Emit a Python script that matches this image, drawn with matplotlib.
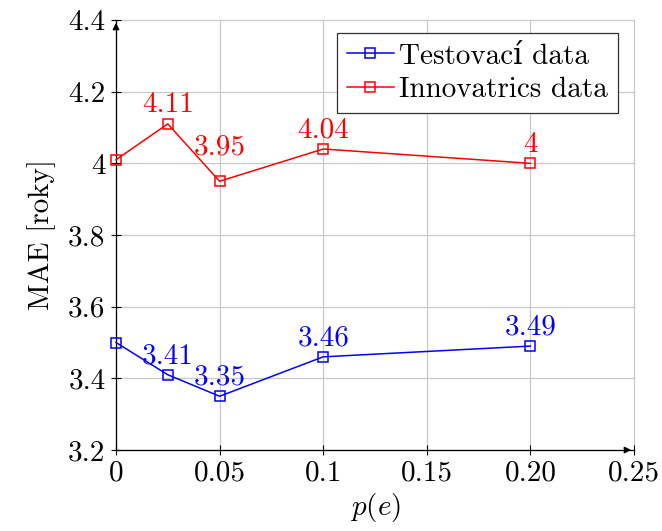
import numpy as np
import matplotlib
matplotlib.use("Agg")
import matplotlib.pyplot as plt

plt.rcParams['font.family'] = ['cmr10', 'DejaVu Serif']
plt.rcParams['mathtext.fontset'] = 'cm'
plt.rcParams['axes.unicode_minus'] = False

p_e = [0, 0.025, 0.05, 0.1, 0.2]
mae_test = [3.50, 3.41, 3.35, 3.46, 3.49]
mae_innov = [4.01, 4.11, 3.95, 4.04, 4.00]
labels_test = ["", "3.41", "3.35", "3.46", "3.49"]
labels_innov = ["", "4.11", "3.95", "4.04", "4"]

xticks = [0, 0.05, 0.1, 0.15, 0.2, 0.25]
xticklabels = ["0", "0.05", "0.1", "0.15", "0.20", "0.25"]
yticks = [3.2, 3.4, 3.6, 3.8, 4.0, 4.2, 4.4]
yticklabels = ["3.2", "3.4", "3.6", "3.8", "4", "4.2", "4.4"]

fs = 21

fig = plt.figure(figsize=(6.62, 5.31), dpi=100)
ax = fig.add_axes([116/662, 81/531, 518/662, 430/531])

ax.plot(p_e, mae_test, color='blue', lw=1.1, marker='s', ms=7.5, mfc='none',
        mec='blue', mew=1.1, label='Testovací data', clip_on=False, zorder=3)
ax.plot(p_e, mae_innov, color='red', lw=1.1, marker='s', ms=7.5, mfc='none',
        mec='red', mew=1.1, label='Innovatrics data', clip_on=False, zorder=3)

for x, y, s in zip(p_e, mae_test, labels_test):
    if s:
        ax.annotate(s, (x, y), xytext=(0, 4), textcoords='offset points',
                    ha='center', va='bottom', color='blue', fontsize=fs)
for x, y, s in zip(p_e, mae_innov, labels_innov):
    if s:
        # the 3.95 label sits higher in the original
        dy = 15 if s == "3.95" else 4
        ax.annotate(s, (x, y), xytext=(0, dy), textcoords='offset points',
                    ha='center', va='bottom', color='red', fontsize=fs)

ax.set_xlim(0, 0.25)
ax.set_ylim(3.2, 4.4)
ax.set_xticks(xticks)
ax.set_xticklabels(xticklabels, fontsize=fs)
ax.set_yticks(yticks)
ax.set_yticklabels(yticklabels, fontsize=fs)
ax.tick_params(direction='inout', length=7, width=0.8, pad=4)

ax.grid(True, color='#c8c8c8', lw=0.9)
for gl in ax.get_xgridlines() + ax.get_ygridlines():
    gl.set_clip_on(False)

for s in ['top', 'right']:
    ax.spines[s].set_visible(False)
ax.spines['left'].set_linewidth(0.9)
ax.spines['bottom'].set_linewidth(0.9)
ax.annotate('', xy=(1, 0), xytext=(0.98, 0), xycoords='axes fraction',
            arrowprops=dict(arrowstyle='-|>', color='black', lw=0.9, mutation_scale=10))
ax.annotate('', xy=(0, 1), xytext=(0, 0.98), xycoords='axes fraction',
            arrowprops=dict(arrowstyle='-|>', color='black', lw=0.9, mutation_scale=10))

ax.set_xlabel('$p(e)$', fontsize=fs, labelpad=3)
ax.set_ylabel('MAE [roky]', fontsize=fs, labelpad=9)

leg = ax.legend(loc='upper right', bbox_to_anchor=(0.969, 0.970), fontsize=fs,
                fancybox=False, edgecolor='#333333', framealpha=1,
                handlelength=1.6, handletextpad=0.18, borderpad=0.35,
                labelspacing=0.25, borderaxespad=0)
leg.get_frame().set_linewidth(0.9)

fig.savefig('out.png', dpi=100)
